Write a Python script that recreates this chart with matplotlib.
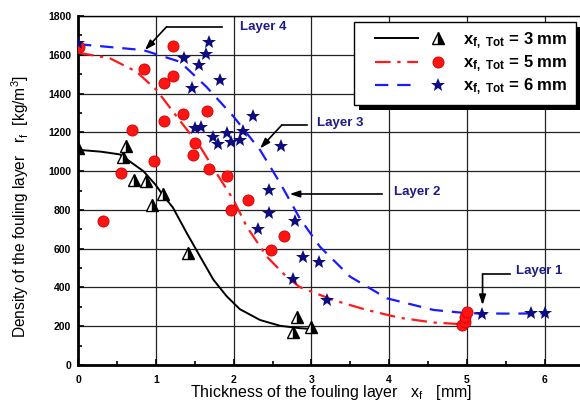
import numpy as np
import matplotlib.pyplot as plt
from matplotlib.legend_handler import HandlerBase
from matplotlib.lines import Line2D
from matplotlib.patches import Rectangle

plt.rcParams['font.family'] = ['Liberation Sans', 'DejaVu Sans']
plt.rcParams['mathtext.default'] = 'regular'

# measured points, x_f,Tot = 3 mm (triangles)
x3 = [0.0, 0.58, 0.62, 0.72, 0.87, 0.95, 1.09, 1.41, 2.76, 2.81, 3.0]
y3 = [1120, 1073, 1129, 955, 949, 825, 880, 577, 172, 248, 196]

# x_f,Tot = 5 mm (circles)
x5 = [0.01, 0.32, 0.55, 0.70, 0.85, 0.98, 1.11, 1.11, 1.22, 1.22, 1.35, 1.50,
      1.48, 1.66, 1.68, 1.91, 1.97, 2.18, 2.48, 2.65, 4.93, 4.97, 4.98, 5.0]
y5 = [1641, 744, 990, 1210, 1528, 1052, 1256, 1457, 1488, 1645, 1292, 1146,
      1084, 1309, 1012, 975, 802, 850, 592, 666, 207, 222, 250, 272]

# x_f,Tot = 6 mm (stars)
x6 = [0.0, 1.36, 1.47, 1.56, 1.65, 1.68, 1.83, 1.50, 1.58, 1.74, 1.80, 1.92,
      1.97, 2.08, 2.12, 2.25, 2.61, 2.45, 2.31, 2.45, 2.79, 2.76, 2.89, 3.10,
      3.20, 5.19, 5.82, 6.0]
y6 = [1660, 1582, 1427, 1547, 1605, 1665, 1468, 1220, 1229, 1177, 1140, 1198,
      1152, 1160, 1207, 1284, 1130, 905, 700, 785, 743, 443, 555, 530,
      335, 265, 270, 270]

# fitted curves
cx3 = [0.0, 0.3, 0.54, 0.84, 1.0, 1.09, 1.22, 1.40, 1.57, 1.74, 1.91, 2.08, 2.34, 2.60, 2.85, 3.0]
cy3 = [1110, 1100, 1086, 1000, 928, 877, 812, 679, 559, 440, 355, 288, 232, 202, 190, 186]

cx5 = [0.0, 0.41, 0.75, 1.01, 1.27, 1.57, 1.78, 2.0, 2.17, 2.43, 2.68, 2.85, 3.28, 3.71, 4.14, 4.57, 4.91]
cy5 = [1611, 1582, 1513, 1418, 1281, 1126, 989, 851, 713, 558, 455, 402, 335, 284, 243, 219, 211]

cx6 = [0.0, 0.84, 1.31, 1.65, 2.0, 2.34, 2.60, 2.85, 3.11, 3.50, 3.97, 4.57, 5.0, 5.5, 6.0]
cy6 = [1655, 1624, 1564, 1435, 1281, 1109, 937, 757, 610, 455, 344, 284, 267, 265, 266]

labels = [r'x$_{f,\ Tot}$ = 3 mm', r'x$_{f,\ Tot}$ = 5 mm', r'x$_{f,\ Tot}$ = 6 mm']

navy = '#0d0d80'
txtc = '#1c1c8a'


class LineThenMarker(HandlerBase):
    # line sample on the left, marker on its own to the right
    def create_artists(self, legend, orig, xdescent, ydescent, width, height,
                       fontsize, trans):
        line, mark = orig
        y = height / 2 - ydescent
        l = Line2D([0.15 * width - xdescent, 0.65 * width - xdescent], [y, y])
        l.update_from(line)
        m = Line2D([0.88 * width - xdescent], [y])
        m.update_from(mark)
        for a in (l, m):
            a.set_transform(trans)
        return [l, m]


fig = plt.figure(figsize=(5.8, 4.17), dpi=100)
ax = fig.add_axes([78 / 580, 52 / 417, 6.5 * 77.8 / 580, 349 / 417])

ax.plot(cx3, cy3, color='black', lw=1.4, zorder=3)
ax.plot(cx5, cy5, color='#ff1a1a', lw=1.6, dashes=(7, 3, 1.5, 3), zorder=3)
ax.plot(cx6, cy6, color='#1a1aff', lw=1.6, dashes=(6, 4), zorder=3)

ax.plot(x3, y3, ls='none', marker='^', ms=8, fillstyle='right',
        markerfacecolor='black', markerfacecoloralt='white',
        markeredgecolor='black', markeredgewidth=1.0, zorder=4)
ax.plot(x5, y5, ls='none', marker='o', ms=8, markerfacecolor='#ff1414',
        markeredgecolor='#d00000', markeredgewidth=0.6, zorder=4)
ax.plot(x6, y6, ls='none', marker='*', ms=10, color=navy,
        markeredgewidth=0, zorder=4)

ax.set_xlim(0, 6.5)
ax.set_ylim(0, 1800)
ax.set_xticks(np.arange(0, 7, 1))
ax.set_xticks(np.arange(0, 6.6, 0.5), minor=True)
ax.set_yticks(np.arange(0, 1801, 200))
ax.set_yticks(np.arange(0, 1801, 100), minor=True)
ax.grid(True, which='major', color='#222222', lw=0.9)
ax.tick_params(which='both', direction='in', top=False, right=False,
               labelsize=7.5, width=1.2)
ax.tick_params(which='major', length=4)
ax.tick_params(which='minor', length=3)
for t in ax.get_xticklabels() + ax.get_yticklabels():
    t.set_fontweight('bold')
ax.tick_params(axis='x', pad=7)
ax.tick_params(axis='y', pad=5)
ax.spines['left'].set_linewidth(2)
ax.spines['bottom'].set_linewidth(2)
ax.spines['top'].set_linewidth(1)

fig.text(331 / 580, 1 - 393 / 417, r'Thickness of the fouling layer   x$_{f}$   [mm]',
         ha='center', va='center', fontsize=11.5)
fig.text(20 / 580, 1 - 207 / 417, r'Density of the fouling layer   r$_{f}$  [kg/m$^{3}$]',
         ha='center', va='center', rotation=90, fontsize=11.2)

# layer annotations
ap = dict(arrowstyle='-|>,head_length=0.6,head_width=0.2', color='black', lw=1.2,
          shrinkA=0, shrinkB=0)
ax.plot([1.85, 1.14], [1745, 1745], color='black', lw=1.2)
ax.annotate('', xy=(0.86, 1624), xytext=(1.14, 1745), arrowprops=ap)
ax.text(2.08, 1743, 'Layer 4', color=txtc, fontsize=9.5, fontweight='bold', va='center')

ax.plot([2.94, 2.62], [1238, 1238], color='black', lw=1.2)
ax.annotate('', xy=(2.34, 1117), xytext=(2.62, 1238), arrowprops=ap)
ax.text(3.07, 1248, 'Layer 3', color=txtc, fontsize=9.5, fontweight='bold', va='center')

ax.annotate('', xy=(2.72, 882), xytext=(3.91, 882), arrowprops=ap)
ax.text(4.06, 892, 'Layer 2', color=txtc, fontsize=9.5, fontweight='bold', va='center')

ax.plot([5.55, 5.2], [469, 469], color='black', lw=1.2)
ax.annotate('', xy=(5.2, 309), xytext=(5.2, 469), arrowprops=ap)
ax.text(5.63, 485, 'Layer 1', color=txtc, fontsize=9.5, fontweight='bold', va='center')

h3 = (Line2D([], [], color='black', lw=1.4),
      Line2D([], [], ls='none', marker='^', ms=8, fillstyle='right',
             markerfacecolor='black', markerfacecoloralt='white', markeredgecolor='black'))
h5 = (Line2D([], [], color='#ff1a1a', lw=1.6, dashes=(7, 3, 1.5, 3)),
      Line2D([], [], ls='none', marker='o', ms=8, markerfacecolor='#ff1414',
             markeredgecolor='#d00000', markeredgewidth=0.6))
h6 = (Line2D([], [], color='#1a1aff', lw=1.6, dashes=(6, 4)),
      Line2D([], [], ls='none', marker='*', ms=10, color=navy, markeredgewidth=0))

leg = ax.legend([h3, h5, h6], labels, handler_map={tuple: LineThenMarker()},
                loc='upper right', bbox_to_anchor=(576 / 580, 1 - 22 / 417),
                bbox_transform=fig.transFigure, borderaxespad=0, fancybox=False,
                framealpha=1, edgecolor='black', handlelength=5.15,
                prop={'weight': 'bold', 'size': 12}, labelspacing=0.15,
                borderpad=0.5, handletextpad=0.9)
leg.get_frame().set_linewidth(1.0)
leg.set_zorder(6)

fig.canvas.draw()
bb = leg.get_window_extent()
shadow = Rectangle((bb.x0 + 5, bb.y0 - 5), bb.width, bb.height, transform=None,
                   facecolor='black', edgecolor='none', zorder=5.5, clip_on=False)
ax.add_artist(shadow)

fig.savefig('out.png', dpi=100)
